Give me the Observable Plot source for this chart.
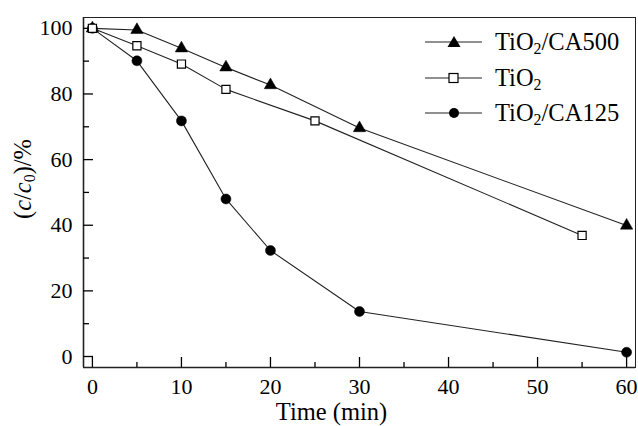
<!DOCTYPE html>
<html>
<head>
<meta charset="utf-8">
<script src="https://cdn.jsdelivr.net/npm/d3@7"></script>
<script src="https://cdn.jsdelivr.net/npm/@observablehq/plot@0.6"></script>
<style>
  html, body { margin: 0; padding: 0; background: #fff; }
  #wrap { position: relative; width: 638px; height: 426px; font-family: "Liberation Serif", "Times New Roman", serif; color: #000; }
  .leg { position: absolute; display: flex; align-items: center; font-size: 24.5px; white-space: nowrap; }
  .leg sub { font-size: 0.65em; vertical-align: -0.25em; line-height: 0; }
  #ylab { position: absolute; font-size: 24.5px; white-space: nowrap; transform: translate(-50%, -50%) rotate(-90deg); }
  #ylab sub { font-size: 0.65em; vertical-align: -0.25em; line-height: 0; }
</style>
</head>
<body>
<div id="wrap"></div>
<script>
// ---- data ----
const ca500Time = [0, 5, 10, 15, 20, 30, 60];
const ca500Val  = [100, 99.5, 93.9, 88.1, 82.7, 69.6, 39.9];
const tio2Time  = [0, 5, 10, 15, 25, 55];
const tio2Val   = [100, 94.7, 89.1, 81.4, 71.8, 36.9];
const ca125Time = [0, 5, 10, 15, 20, 30, 60];
const ca125Val  = [100, 90.1, 71.8, 48.0, 32.3, 13.7, 1.3];
const seriesNames = ["TiO2/CA500", "TiO2", "TiO2/CA125"];
const seriesHtml  = ["TiO<sub>2</sub>/CA500", "TiO<sub>2</sub>", "TiO<sub>2</sub>/CA125"];
const xMajor = [0, 10, 20, 30, 40, 50, 60];
const xMinor = [5, 15, 25, 35, 45, 55];
const yMajor = [0, 20, 40, 60, 80, 100];
const yMinor = [10, 30, 50, 70, 90];
const xTitle = "Time (min)";

const xDomain = [-1, 61];
const yDomain = [-3.35, 103.3];

const toRows = (ts, vs, name) => ts.map((t, i) => ({time: t, value: vs[i], series: name}));
const dCA500 = toRows(ca500Time, ca500Val, seriesNames[0]);
const dTiO2  = toRows(tio2Time, tio2Val, seriesNames[1]);
const dCA125 = toRows(ca125Time, ca125Val, seriesNames[2]);

const plot = Plot.plot({
  width: 638,
  height: 426,
  marginLeft: 83,
  marginTop: 17,
  marginRight: 3,
  marginBottom: 59,
  style: {fontFamily: "'Liberation Serif', 'Times New Roman', serif", fontSize: "22px", color: "#000", background: "#fff"},
  x: {domain: xDomain},
  y: {domain: yDomain},
  marks: [
    Plot.frame({stroke: "#222", strokeWidth: 1}),
    Plot.ruleY([yDomain[0]], {stroke: "#222", strokeWidth: 1.6}),
    Plot.ruleX([xDomain[0]], {stroke: "#222", strokeWidth: 1.6}),
    // ticks (inward)
    Plot.axisX({ticks: xMajor, tickSize: -10, tickFormat: () => "", label: null, strokeWidth: 1.3}),
    Plot.axisX({ticks: xMinor, tickSize: -5, tickFormat: () => "", label: null, strokeWidth: 1.3}),
    Plot.axisY({ticks: yMajor, tickSize: -10, tickFormat: () => "", label: null, strokeWidth: 1.3}),
    Plot.axisY({ticks: yMinor, tickSize: -6, tickFormat: () => "", label: null, strokeWidth: 1.3}),
    // tick labels
    Plot.axisX({ticks: xMajor, tickSize: 0, tickPadding: 11, label: null}),
    Plot.axisY({ticks: yMajor, tickSize: 0, tickPadding: 11, label: null}),
    Plot.text([xTitle], {frameAnchor: "bottom", dx: -28, dy: 45, fontSize: 24.5, lineAnchor: "middle"}),
    // lines
    Plot.line(dCA500, {x: "time", y: "value", stroke: "#222", strokeWidth: 1.1}),
    Plot.line(dTiO2, {x: "time", y: "value", stroke: "#222", strokeWidth: 1.1}),
    Plot.line(dCA125, {x: "time", y: "value", stroke: "#222", strokeWidth: 1.1}),
    // markers
    Plot.dot(dCA125, {x: "time", y: "value", symbol: "circle", r: 5, fill: "#000", stroke: "#000", strokeWidth: 0.5}),
    Plot.dot(dCA500, {x: "time", y: "value", symbol: "triangle", r: 4.6, fill: "#000", stroke: "#000", strokeWidth: 0.5}),
    Plot.dot(dTiO2, {x: "time", y: "value", symbol: "square", r: 4.6, fill: "#fff", stroke: "#000", strokeWidth: 1.2})
  ]
});

const wrap = document.getElementById("wrap");
wrap.appendChild(plot);

// legend (inside plot, top right)
const legSymbols = [
  '<path d="M29,1 L35.5,12 L22.5,12 Z" fill="#000"/>',
  '<rect x="24" y="2.5" width="9" height="9" fill="#fff" stroke="#000" stroke-width="1.2"/>',
  '<circle cx="29" cy="7" r="5" fill="#000"/>'
];
seriesHtml.forEach((h, i) => {
  const row = document.createElement("div");
  row.className = "leg";
  row.style.left = "425px";
  row.style.top = (42 + 35.5 * i - 14) + "px";
  row.style.height = "28px";
  row.innerHTML = '<svg width="57" height="14" style="overflow:visible"><line x1="0" x2="57" y1="7" y2="7" stroke="#222" stroke-width="1.1"/>' +
    legSymbols[i] + '</svg><span style="margin-left:13px">' + h + '</span>';
  wrap.appendChild(row);
});

// y axis title
const ylab = document.createElement("div");
ylab.id = "ylab";
ylab.style.left = "23px";
ylab.style.top = "179px";
ylab.innerHTML = '(<i>c</i>/<i>c</i><sub>0</sub>)/%';
wrap.appendChild(ylab);
</script>
</body>
</html>
